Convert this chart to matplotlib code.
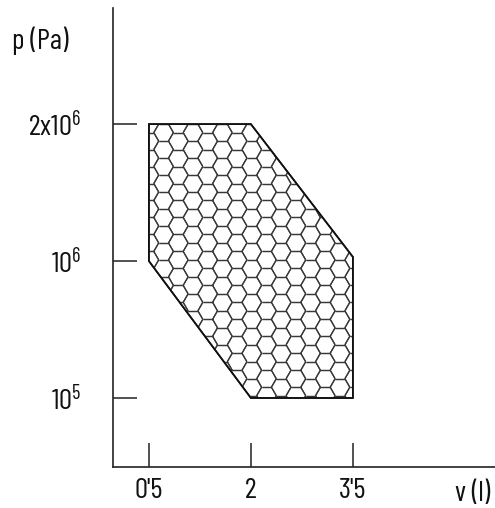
import numpy as np
import matplotlib
matplotlib.use('Agg')
import matplotlib.pyplot as plt
from matplotlib import font_manager
from matplotlib.patches import Polygon
from matplotlib.collections import LineCollection

# fuente estrecha si existe
disponibles = {f.name for f in font_manager.fontManager.ttflist}
FUENTE = 'DejaVu Sans'
for cand in ['Barlow Condensed', 'Roboto Condensed', 'Saira Condensed',
             'Encode Sans Condensed', 'Liberation Sans Narrow']:
    if cand in disponibles:
        FUENTE = cand
        break
plt.rcParams['font.family'] = [FUENTE, 'DejaVu Sans']
plt.rcParams['mathtext.fontset'] = 'custom'
if FUENTE == 'DejaVu Sans':
    plt.rcParams['font.stretch'] = 'condensed'
    plt.rcParams['mathtext.rm'] = 'DejaVu Sans:stretch=condensed'
else:
    plt.rcParams['mathtext.rm'] = FUENTE

# datos
x_ticks = [0.5, 2, 3.5]
x_labels = ["0'5", "2", "3'5"]
y_ticks = [0, 1, 2]
y_labels = [r'$\mathregular{10^5}$', r'$\mathregular{10^6}$', r'$\mathregular{2x10^6}$']
region_v = [0.5, 2.0, 3.5, 3.5, 2.0, 0.5]
region_p = [2.0, 2.0, 1.03, 0.0, 0.0, 1.0]

FS = 21

fig = plt.figure(figsize=(4.95, 5.08), dpi=100)
ax = fig.add_axes([0.228, 0.0807, 0.772, 0.9033])
ax.set_xlim(-0.03, 5.59)
ax.set_ylim(-0.504, 2.847)

for s in ['top', 'right']:
    ax.spines[s].set_visible(False)
for s in ['left', 'bottom']:
    ax.spines[s].set_linewidth(1.2)
    ax.spines[s].set_color('#222222')

ax.set_xticks(x_ticks, x_labels)
ax.set_yticks(y_ticks, y_labels)
ax.tick_params(axis='both', direction='in', length=17, width=1.1,
               color='#222222', labelsize=FS, labelcolor='#111111')
ax.tick_params(axis='x', pad=8)
ax.tick_params(axis='y', pad=23)

# region
poly = Polygon(np.column_stack([region_v, region_p]), closed=True,
               facecolor='white', edgecolor='#111111', linewidth=1.2, zorder=3)
ax.add_patch(poly)

# trama hexagonal (en pixeles -> datos)
px_x = ax.transData.transform((1, 0))[0] - ax.transData.transform((0, 0))[0]
px_y = ax.transData.transform((0, 1))[1] - ax.transData.transform((0, 0))[1]
r = 9.8
h = np.sqrt(3) * r
ang = np.deg2rad(np.arange(0, 361, 60))
segs = []
x0, y0 = 0.5 * px_x, 2.0 * px_y
for i in range(-2, 26):
    for j in range(-3, 22):
        cx = x0 + 1.5 * r * i
        cy = y0 - h * (j + 0.5 * (i % 2))
        vx = (cx + r * np.cos(ang)) / px_x
        vy = (cy + r * np.sin(ang)) / px_y
        for k in range(6):
            segs.append([(vx[k], vy[k]), (vx[k + 1], vy[k + 1])])
lc = LineCollection(segs, colors='#383838', linewidths=0.9, zorder=4)
ax.add_collection(lc)
lc.set_clip_path(poly)

edge = Polygon(np.column_stack([region_v, region_p]), closed=True,
               fill=False, edgecolor='#111111', linewidth=1.2, zorder=5)
ax.add_patch(edge)

fig.text(12 / 495, 1 - 41 / 508, 'p (Pa)', fontsize=FS, va='center', ha='left', color='#111111')
fig.text(490 / 495, 1 - 494 / 508, 'v (l)', fontsize=FS, va='center', ha='right', color='#111111')

fig.savefig('out.png', dpi=100)
